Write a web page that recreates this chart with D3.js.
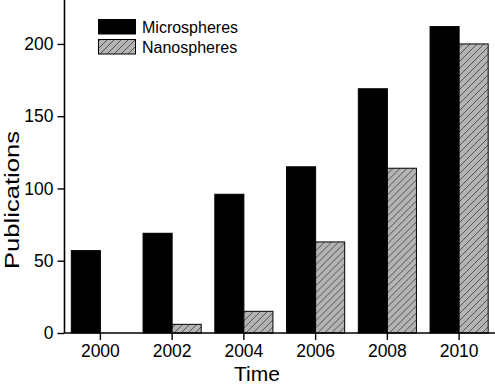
<!DOCTYPE html>
<html>
<head>
<meta charset="utf-8">
<script src="https://cdn.jsdelivr.net/npm/d3@7"></script>
<style>
  html, body { margin: 0; padding: 0; background: #fff; }
  svg { display: block; font-family: "Liberation Sans", Arial, sans-serif; }
</style>
</head>
<body>
<svg id="chart" width="495" height="384"></svg>
<script>
const years = ["2000", "2002", "2004", "2006", "2008", "2010"];
const microspheres = [57, 69, 96, 115, 169, 212];
const nanospheres = [0, 6, 15, 63, 114, 200];
const seriesNames = ["Microspheres", "Nanospheres"];
const yTicks = [0, 50, 100, 150, 200];

(function () {
const svg = d3.select("#chart");
const mLeft = 64.5, mRight = 495, mTop = 0, mBottom = 333;

// hatch pattern
const defs = svg.append("defs");
const pat = defs.append("pattern")
  .attr("id", "hatch")
  .attr("patternUnits", "userSpaceOnUse")
  .attr("width", 7).attr("height", 7);
pat.append("rect").attr("width", 7).attr("height", 7).attr("fill", "#b4b4b4");
pat.append("path")
  .attr("d", "M-1,8 L8,-1 M-1,1 L1,-1 M6,8 L8,6")
  .attr("stroke", "#3a3a3a").attr("stroke-width", 0.8);

const x = d3.scaleBand().domain(years).range([mLeft, mRight])
  .paddingInner(0.19).paddingOuter(0.095);
const sub = d3.scaleBand().domain(seriesNames).range([0, x.bandwidth()]);
const y = d3.scaleLinear().domain([0, 230.4]).range([mBottom, mTop]);

const data = years.map((yr, i) => ({ year: yr, values: [microspheres[i], nanospheres[i]] }));

const fills = ["#000", "url(#hatch)"];

const groups = svg.append("g").selectAll("g").data(data).join("g")
  .attr("transform", d => `translate(${x(d.year)},0)`);
groups.selectAll("rect")
  .data(d => d.values.map((v, k) => ({ v, k })).filter(e => e.v > 0))
  .join("rect")
  .attr("x", d => sub(seriesNames[d.k]))
  .attr("width", sub.bandwidth())
  .attr("y", d => y(d.v))
  .attr("height", d => y(0) - y(d.v))
  .attr("fill", d => fills[d.k])
  .attr("stroke", "#000")
  .attr("stroke-width", 1);

// axes
const yAxis = d3.axisLeft(y).tickValues(yTicks).tickSize(7).tickPadding(4);
const gy = svg.append("g").attr("transform", `translate(${mLeft},0)`).call(yAxis);
gy.select(".domain").attr("d", `M0,${mTop}V${mBottom}`).attr("stroke-width", 1.6);
gy.selectAll(".tick line").attr("stroke-width", 1.4);
gy.selectAll("text").attr("font-size", 17.5).attr("fill", "#000")
  .attr("font-family", "Liberation Sans, Arial, sans-serif");

const xAxis = d3.axisBottom(x).tickSize(7).tickPadding(5);
const gx = svg.append("g").attr("transform", `translate(0,${mBottom})`).call(xAxis);
gx.select(".domain").attr("d", `M${mLeft},0H${mRight}`).attr("stroke-width", 1.6);
gx.selectAll(".tick line").attr("stroke-width", 1.4);
gx.selectAll("text").attr("font-size", 17.5).attr("fill", "#000")
  .attr("font-family", "Liberation Sans, Arial, sans-serif");

// axis titles
svg.append("text")
  .attr("transform", `translate(19,200) rotate(-90)`)
  .attr("text-anchor", "middle")
  .attr("font-size", 21)
  .attr("textLength", 138)
  .attr("lengthAdjust", "spacingAndGlyphs")
  .text("Publications");
svg.append("text")
  .attr("x", 257).attr("y", 381)
  .attr("text-anchor", "middle")
  .attr("font-size", 21)
  .text("Time");

// legend
const legend = svg.append("g");
seriesNames.forEach((name, k) => {
  legend.append("rect")
    .attr("x", 98.5).attr("y", 19.5 + k * 20)
    .attr("width", 37).attr("height", 14.5)
    .attr("fill", fills[k]).attr("stroke", "#000").attr("stroke-width", 1);
  legend.append("text")
    .attr("x", 142).attr("y", 32.5 + k * 20)
    .attr("font-size", 16)
    .text(name);
});
})();
</script>
</body>
</html>
